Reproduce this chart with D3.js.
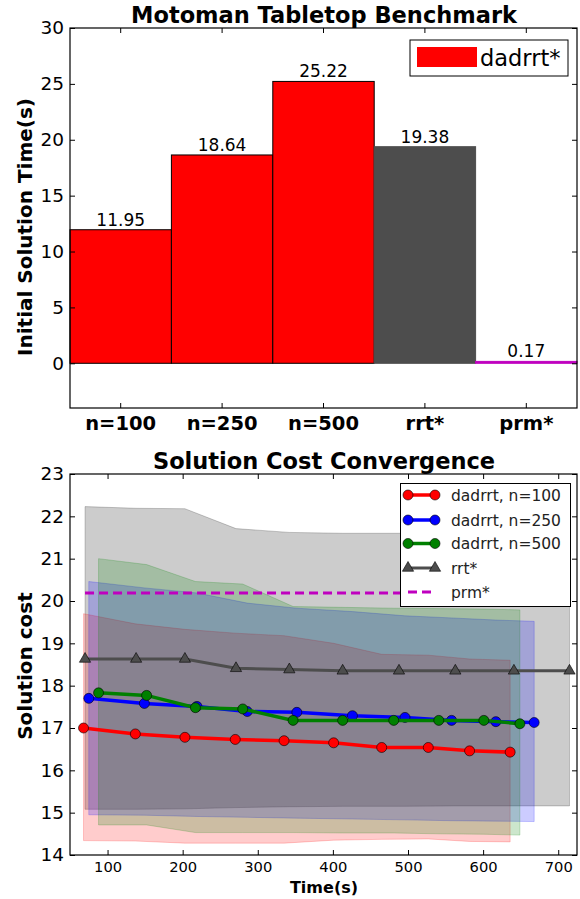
<!DOCTYPE html>
<html><head><meta charset="utf-8">
<script src="https://cdn.jsdelivr.net/npm/d3@7"></script>
<style>body{margin:0;background:#fff}svg{display:block;font-family:"DejaVu Sans",sans-serif}</style>
</head><body>
<svg id="c" width="580" height="899"></svg>
<script>
// ---------- data: top chart ----------
const barCategories = ["n=100", "n=250", "n=500", "rrt*", "prm*"];
const barValues = [11.95, 18.64, 25.22, 19.38, 0.17];
const barLabels = ["11.95", "18.64", "25.22", "19.38", "0.17"];
const topYTicks = [0, 5, 10, 15, 20, 25, 30];

// ---------- data: bottom chart ----------
const n100X = [68, 137, 203, 270, 335, 401, 465, 527, 582, 636];
const n100Y = [17.00, 16.86, 16.78, 16.73, 16.70, 16.65, 16.54, 16.54, 16.46, 16.43];
const n100Hi = [19.70, 19.46, 19.33, 19.24, 19.18, 19.00, 18.74, 18.72, 18.63, 18.60];
const n100Lo = [14.34, 14.33, 14.28, 14.28, 14.28, 14.35, 14.37, 14.38, 14.32, 14.31];

const n250X = [75, 149, 219, 286, 352, 426, 496, 558, 617, 668];
const n250Y = [17.70, 17.58, 17.51, 17.39, 17.37, 17.29, 17.25, 17.18, 17.15, 17.13];
const n250Hi = [20.46, 20.31, 20.19, 19.95, 19.83, 19.75, 19.65, 19.60, 19.55, 19.52];
const n250Lo = [14.95, 14.94, 14.91, 14.89, 14.87, 14.85, 14.83, 14.81, 14.80, 14.79];

const n500X = [88, 152, 217, 280, 347, 413, 481, 541, 601, 649];
const n500Y = [17.83, 17.77, 17.48, 17.45, 17.18, 17.18, 17.18, 17.18, 17.18, 17.10];
const n500Hi = [21.00, 20.86, 20.46, 20.40, 19.87, 19.85, 19.83, 19.82, 19.81, 19.79];
const n500Lo = [14.71, 14.71, 14.53, 14.53, 14.53, 14.52, 14.52, 14.50, 14.49, 14.47];

const rrtX = [70, 138, 203, 271, 342, 413, 488, 563, 641, 715];
const rrtY = [18.63, 18.63, 18.63, 18.41, 18.38, 18.35, 18.35, 18.35, 18.35, 18.35];
const rrtHi = [22.23, 22.19, 22.18, 21.71, 21.62, 21.60, 21.60, 21.59, 21.58, 21.58];
const rrtLo = [15.08, 15.08, 15.09, 15.12, 15.14, 15.15, 15.15, 15.16, 15.16, 15.16];

const prmX = [70, 715];
const prmY = [20.19, 20.19];

const botXTicks = [100, 200, 300, 400, 500, 600, 700];
const botYTicks = [14, 15, 16, 17, 18, 19, 20, 21, 22, 23];

const seriesNames = ["dadrrt, n=100", "dadrrt, n=250", "dadrrt, n=500", "rrt*", "prm*"];

// ---------- drawing ----------
const svg = d3.select("#c");
const FONT = "DejaVu Sans";
const TICK = 5;

// ===== Top chart =====
const T = {l: 70, r: 577, t: 28, b: 408};
const xb = d3.scaleBand().domain(barCategories).range([T.l, T.r]).padding(0);
const yb = d3.scaleLinear().domain([-4, 30]).range([T.b, T.t]);
const barFill = ["#ff0000", "#ff0000", "#ff0000", "#4d4d4d", "#bf00bf"];
const barStroke = ["#000", "#000", "#000", "#4d4d4d", "#bf00bf"];

const gTop = svg.append("g");
gTop.selectAll("rect.bar").data(barValues).join("rect")
  .attr("x", (d, i) => xb(barCategories[i]))
  .attr("width", xb.bandwidth())
  .attr("y", d => yb(d))
  .attr("height", d => yb(0) - yb(d))
  .attr("fill", (d, i) => barFill[i])
  .attr("stroke", (d, i) => barStroke[i])
  .attr("stroke-width", 1);

gTop.selectAll("text.blab").data(barValues).join("text")
  .attr("x", (d, i) => xb(barCategories[i]) + xb.bandwidth() / 2)
  .attr("y", d => yb(d) - 4)
  .attr("text-anchor", "middle")
  .attr("font-size", 17).attr("fill", "#000")
  .text((d, i) => barLabels[i]);

// axes
const axTopL = d3.axisLeft(yb).tickValues(topYTicks).tickSizeInner(-TICK).tickSizeOuter(0).tickPadding(6);
const axTopR = d3.axisRight(yb).tickValues(topYTicks).tickSizeInner(-TICK).tickSizeOuter(0).tickFormat("");
const axTopB = d3.axisBottom(xb).tickSizeInner(-TICK).tickSizeOuter(0).tickPadding(8);
const axTopT = d3.axisTop(xb).tickSizeInner(-TICK).tickSizeOuter(0).tickFormat("");

function styleAxis(g, fs, bold) {
  g.select(".domain").remove();
  g.selectAll(".tick line").attr("stroke", "#000");
  g.selectAll(".tick text").attr("font-family", FONT).attr("font-size", fs)
    .attr("font-weight", bold ? "bold" : "normal").attr("fill", "#000");
}
gTop.append("g").attr("transform", `translate(${T.l},0)`).call(axTopL).call(g => styleAxis(g, 18.5, false));
gTop.append("g").attr("transform", `translate(${T.r},0)`).call(axTopR).call(g => styleAxis(g, 18.5, false));
gTop.append("g").attr("transform", `translate(0,${T.b})`).call(axTopB).call(g => styleAxis(g, 19.5, true));
gTop.append("g").attr("transform", `translate(0,${T.t})`).call(axTopT).call(g => styleAxis(g, 19.5, true));
gTop.append("rect").attr("x", T.l).attr("y", T.t).attr("width", T.r - T.l).attr("height", T.b - T.t)
  .attr("fill", "none").attr("stroke", "#000").attr("stroke-width", 1.2);

gTop.append("text").attr("x", 324).attr("y", 23).attr("text-anchor", "middle")
  .attr("font-size", 22.5).attr("font-weight", "bold").text("Motoman Tabletop Benchmark");
gTop.append("text").attr("transform", `translate(32,227) rotate(-90)`)
  .attr("text-anchor", "middle").attr("font-size", 20).attr("font-weight", "bold")
  .text("Initial Solution Time(s)");

// top legend
const tl = gTop.append("g");
tl.append("rect").attr("x", 410).attr("y", 40).attr("width", 158).attr("height", 36)
  .attr("fill", "#fff").attr("stroke", "#000").attr("stroke-width", 1);
tl.append("rect").attr("x", 417).attr("y", 47).attr("width", 60).attr("height", 20).attr("fill", "#ff0000");
tl.append("text").attr("x", 480).attr("y", 66).attr("font-size", 22.5).text("dadrrt*");

// ===== Bottom chart =====
const B = {l: 70, r: 577, t: 474, b: 855};
const xs = d3.scaleLinear().domain([50, 725]).range([B.l, B.r]);
const ys = d3.scaleLinear().domain([14, 23]).range([B.b, B.t]);
const gBot = svg.append("g");
gBot.append("clipPath").attr("id", "clipB").append("rect")
  .attr("x", B.l).attr("y", B.t).attr("width", B.r - B.l).attr("height", B.b - B.t);
const plot = gBot.append("g").attr("clip-path", "url(#clipB)");

const series = [
  {name: seriesNames[0], x: n100X, y: n100Y, hi: n100Hi, lo: n100Lo, color: "#ff0000", band: "#ff0000", marker: "circle"},
  {name: seriesNames[1], x: n250X, y: n250Y, hi: n250Hi, lo: n250Lo, color: "#0000ff", band: "#0000ff", marker: "circle"},
  {name: seriesNames[2], x: n500X, y: n500Y, hi: n500Hi, lo: n500Lo, color: "#008000", band: "#008000", marker: "circle"},
  {name: seriesNames[3], x: rrtX, y: rrtY, hi: rrtHi, lo: rrtLo, color: "#4d4d4d", band: "#000000", marker: "triangle"}
];

const area = d3.area().x(d => xs(d[0])).y0(d => ys(d[1])).y1(d => ys(d[2]));
[3, 0, 1, 2].forEach(k => {
  const s = series[k];
  const pts = s.x.map((x, i) => [x, s.lo[i], s.hi[i]]);
  plot.append("path").attr("d", area(pts)).attr("fill", s.band).attr("fill-opacity", 0.2)
    .attr("stroke", s.band).attr("stroke-opacity", 0.2).attr("stroke-width", 1);
});

const line = d3.line().x(d => xs(d[0])).y(d => ys(d[1]));
const tri = d3.symbol().type(d3.symbolTriangle).size(55);
series.forEach(s => {
  const pts = s.x.map((x, i) => [x, s.y[i]]);
  plot.append("path").attr("d", line(pts)).attr("fill", "none").attr("stroke", s.color)
    .attr("stroke-width", s.marker === "triangle" ? 3 : 3.5);
  if (s.marker === "circle") {
    plot.selectAll(null).data(pts).join("circle").attr("cx", d => xs(d[0])).attr("cy", d => ys(d[1]))
      .attr("r", 5).attr("fill", s.color).attr("stroke", "#000").attr("stroke-width", 0.6);
  } else {
    plot.selectAll(null).data(pts).join("path").attr("d", tri)
      .attr("transform", d => `translate(${xs(d[0])},${ys(d[1])})`)
      .attr("fill", s.color).attr("stroke", "#000").attr("stroke-width", 0.6);
  }
});
plot.append("path").attr("d", line(prmX.map((x, i) => [x, prmY[i]]))).attr("fill", "none")
  .attr("stroke", "#bf00bf").attr("stroke-width", 3).attr("stroke-dasharray", "9,5");

const axBL = d3.axisLeft(ys).tickValues(botYTicks).tickSizeInner(-TICK).tickSizeOuter(0).tickPadding(6);
const axBR = d3.axisRight(ys).tickValues(botYTicks).tickSizeInner(-TICK).tickSizeOuter(0).tickFormat("");
const axBB = d3.axisBottom(xs).tickValues(botXTicks).tickSizeInner(-TICK).tickSizeOuter(0).tickPadding(6.5);
const axBT = d3.axisTop(xs).tickValues(botXTicks).tickSizeInner(-TICK).tickSizeOuter(0).tickFormat("");
gBot.append("g").attr("transform", `translate(${B.l},0)`).call(axBL).call(g => styleAxis(g, 18.5, false));
gBot.append("g").attr("transform", `translate(${B.r},0)`).call(axBR).call(g => styleAxis(g, 18.5, false));
gBot.append("g").attr("transform", `translate(0,${B.b})`).call(axBB).call(g => styleAxis(g, 14.7, false));
gBot.append("g").attr("transform", `translate(0,${B.t})`).call(axBT).call(g => styleAxis(g, 14.7, false));
gBot.append("rect").attr("x", B.l).attr("y", B.t).attr("width", B.r - B.l).attr("height", B.b - B.t)
  .attr("fill", "none").attr("stroke", "#000").attr("stroke-width", 1.2);

gBot.append("text").attr("x", 324).attr("y", 469).attr("text-anchor", "middle")
  .attr("font-size", 22.5).attr("font-weight", "bold").text("Solution Cost Convergence");
gBot.append("text").attr("transform", `translate(32,666) rotate(-90)`)
  .attr("text-anchor", "middle").attr("font-size", 20).attr("font-weight", "bold").text("Solution cost");
gBot.append("text").attr("x", 324).attr("y", 893).attr("text-anchor", "middle")
  .attr("font-size", 16).attr("font-weight", "bold").text("Time(s)");

// bottom legend
const lg = gBot.append("g");
lg.append("rect").attr("x", 400.5).attr("y", 483.5).attr("width", 170).attr("height", 123)
  .attr("fill", "#fff").attr("stroke", "#000").attr("stroke-width", 1);
const legY = [495, 520, 543.5, 568, 592];
const legColors = ["#ff0000", "#0000ff", "#008000", "#4d4d4d", "#bf00bf"];
seriesNames.forEach((nm, i) => {
  const y = legY[i];
  const gi = lg.append("g");
  if (i < 3) {
    gi.append("line").attr("x1", 408).attr("x2", 435).attr("y1", y).attr("y2", y)
      .attr("stroke", legColors[i]).attr("stroke-width", 3.5);
    [408, 435].forEach(x => gi.append("circle").attr("cx", x).attr("cy", y).attr("r", 5)
      .attr("fill", legColors[i]).attr("stroke", "#000").attr("stroke-width", 0.6));
  } else if (i === 3) {
    gi.append("line").attr("x1", 408).attr("x2", 435).attr("y1", y).attr("y2", y)
      .attr("stroke", legColors[i]).attr("stroke-width", 3);
    [408, 435].forEach(x => gi.append("path").attr("d", tri).attr("transform", `translate(${x},${y})`)
      .attr("fill", legColors[i]).attr("stroke", "#000").attr("stroke-width", 0.6));
  } else {
    gi.append("line").attr("x1", 408).attr("x2", 435).attr("y1", y).attr("y2", y)
      .attr("stroke", legColors[i]).attr("stroke-width", 3).attr("stroke-dasharray", "9,5");
  }
  gi.append("text").attr("x", 451).attr("y", y + 5.5).attr("font-size", 15.5).attr("fill", "#222").text(nm);
});
</script>
</body></html>
